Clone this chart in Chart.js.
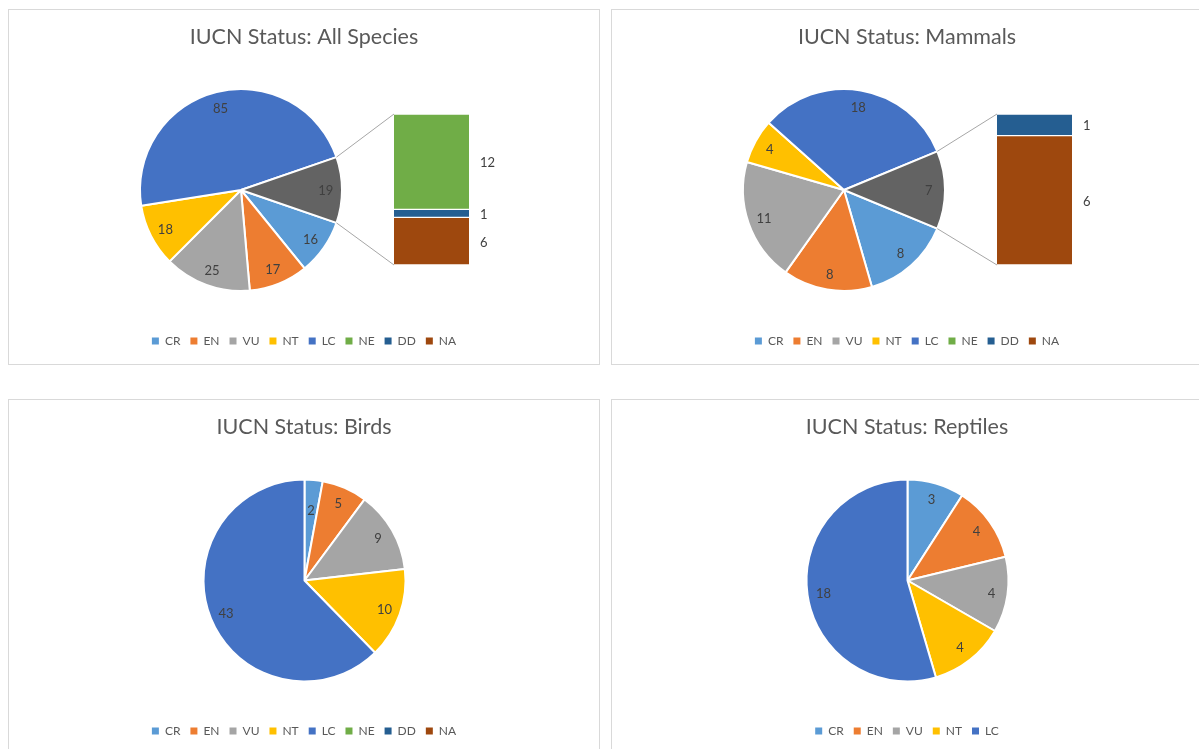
<!DOCTYPE html>
<html><head><meta charset="utf-8">
<script src="https://cdn.jsdelivr.net/npm/chart.js@4.4.1/dist/chart.umd.min.js"></script>
<style>
html,body{margin:0;padding:0;background:#fff;overflow:hidden;width:1199px;height:749px;}
.panel{position:absolute;border:1px solid #d9d9d9;width:590px;height:354px;background:#fff;}
.panel canvas{position:absolute;left:0;top:0;}
</style></head><body>
<div class="panel" style="left:8px;top:9px"><canvas id="pie1" width="590" height="354"></canvas><canvas id="bar1" width="590" height="354"></canvas></div>
<div class="panel" style="left:611px;top:9px"><canvas id="pie2" width="590" height="354"></canvas><canvas id="bar2" width="590" height="354"></canvas></div>
<div class="panel" style="left:8px;top:399px"><canvas id="pie3" width="590" height="354"></canvas></div>
<div class="panel" style="left:611px;top:399px"><canvas id="pie4" width="590" height="354"></canvas></div>
<script>
// ---- data ----
const legendCategories = ['CR','EN','VU','NT','LC','NE','DD','NA'];
const pieCategories = ['CR','EN','VU','NT','LC'];
const barCategories = ['NE','DD','NA'];
const allSpeciesPie = [16, 17, 25, 18, 85];
const allSpeciesBar = [12, 1, 6];
const mammalsPie = [8, 8, 11, 4, 18];
const mammalsBar = [0, 1, 6];
const birdsPie = [2, 5, 9, 10, 43];
const reptilesPie = [3, 4, 4, 4, 18];
const titles = ['IUCN Status: All Species', 'IUCN Status: Mammals', 'IUCN Status: Birds', 'IUCN Status: Reptiles'];

// ---- styles ----
const COLORS = {CR:'#5B9BD5', EN:'#ED7D31', VU:'#A5A5A5', NT:'#FFC000', LC:'#4472C4', NE:'#70AD47', DD:'#255E91', NA:'#9E480E', Other:'#636363'};
const FONT = 'Lato, "Open Sans", sans-serif';
const W = 590, H = 354;
const R = 101;
const TOP_PIE = {cx: 232, cy: 180};
const BOT_PIE = {cx: 295.5, cy: 180.5};
const BAR_BOX = {left: 385, right: 460, top: 104, bottom: 255};
const TITLE_SIZE = 21.5;

function placePie(pos) {
  return {
    id: 'placePie',
    afterLayout(chart) {
      const a = chart.chartArea;
      a.left = pos.cx - R - 3; a.right = pos.cx + R + 3;
      a.top = pos.cy - R - 3; a.bottom = pos.cy + R + 3;
      a.width = a.right - a.left; a.height = a.bottom - a.top;
    }
  };
}

const pieLabels = {
  id: 'pieLabels',
  afterDatasetsDraw(chart) {
    const ctx = chart.ctx;
    const meta = chart.getDatasetMeta(0);
    const vals = chart.data.datasets[0].data;
    ctx.save();
    ctx.font = '13px ' + FONT;
    ctx.fillStyle = '#404040';
    ctx.textAlign = 'center';
    ctx.textBaseline = 'middle';
    meta.data.forEach((arc, i) => {
      const v = vals[i];
      if (!v) return;
      const p = arc.getProps(['x','y','startAngle','endAngle','outerRadius'], true);
      const span = p.endAngle - p.startAngle;
      const mid = (p.startAngle + p.endAngle) / 2;
      const f = span < 0.3 ? 0.7 : 0.84;
      ctx.fillText(String(v), p.x + Math.cos(mid) * p.outerRadius * f, p.y + Math.sin(mid) * p.outerRadius * f + 1);
    });
    ctx.restore();
  }
};

function makePie(id, title, labels, values, colors, legendCats, pos, rotation) {
  return new Chart(document.getElementById(id), {
    type: 'pie',
    data: {labels, datasets: [{data: values, backgroundColor: colors, borderColor: '#ffffff', borderWidth: 2, radius: R}]},
    options: {
      responsive: false, animation: false, events: [],
      rotation: rotation,
      layout: {padding: {top: 0, bottom: 7, left: 0, right: 0}},
      plugins: {
        title: {display: true, text: title, color: '#595959', font: {family: FONT, size: TITLE_SIZE, weight: 'normal'}, padding: {top: 27 - TITLE_SIZE * 0.6, bottom: 6}},
        legend: {
          position: 'bottom',
          labels: {
            boxWidth: 7, boxHeight: 7, padding: 10, color: '#595959', font: {family: FONT, size: 12},
            generateLabels: () => legendCats.map(c => ({text: c, fillStyle: COLORS[c], strokeStyle: COLORS[c], lineWidth: 0, hidden: false, fontColor: '#595959'}))
          }
        },
        tooltip: {enabled: false}
      }
    },
    plugins: [placePie(pos), pieLabels]
  });
}

const barLabels = {
  id: 'barLabels',
  afterDatasetsDraw(chart) {
    const ctx = chart.ctx;
    ctx.save();
    ctx.font = '13px ' + FONT;
    ctx.fillStyle = '#404040';
    ctx.textAlign = 'left';
    ctx.textBaseline = 'middle';
    chart.data.datasets.forEach((ds, di) => {
      const el = chart.getDatasetMeta(di).data[0];
      const p = el.getProps(['x','y','base','width'], true);
      ctx.fillText(String(ds.data[0]), p.x + p.width / 2 + 11, (p.y + p.base) / 2 + 1.5);
    });
    ctx.restore();
  }
};

function connectors(pieChart) {
  return {
    id: 'connectors',
    afterDraw(chart) {
      const meta = pieChart.getDatasetMeta(0);
      const arc = meta.data[meta.data.length - 1];
      const p = arc.getProps(['x','y','startAngle','endAngle','outerRadius'], true);
      const a = chart.chartArea;
      const ctx = chart.ctx;
      ctx.save();
      ctx.strokeStyle = '#a6a6a6';
      ctx.lineWidth = 1;
      ctx.beginPath();
      ctx.moveTo(p.x + Math.cos(p.startAngle) * p.outerRadius, p.y + Math.sin(p.startAngle) * p.outerRadius);
      ctx.lineTo(a.left, a.top);
      ctx.moveTo(p.x + Math.cos(p.endAngle) * p.outerRadius, p.y + Math.sin(p.endAngle) * p.outerRadius);
      ctx.lineTo(a.left, a.bottom);
      ctx.stroke();
      ctx.restore();
    }
  };
}

function makeBar(id, pieChart, values) {
  const datasets = [];
  for (let i = barCategories.length - 1; i >= 0; i--) {
    if (!values[i]) continue;
    datasets.push({label: barCategories[i], data: [values[i]], backgroundColor: COLORS[barCategories[i]],
      borderColor: '#ffffff', borderWidth: {top: 1, bottom: 1, left: 0, right: 0}, borderSkipped: false,
      barPercentage: 1, categoryPercentage: 1});
  }
  const total = values.reduce((s, v) => s + v, 0);
  return new Chart(document.getElementById(id), {
    type: 'bar',
    data: {labels: ['Other'], datasets},
    options: {
      responsive: false, animation: false, events: [],
      layout: {padding: {left: BAR_BOX.left, right: W - BAR_BOX.right, top: BAR_BOX.top, bottom: H - BAR_BOX.bottom}},
      scales: {x: {display: false, stacked: true}, y: {display: false, stacked: true, min: 0, max: total}},
      plugins: {legend: {display: false}, title: {display: false}, tooltip: {enabled: false}}
    },
    plugins: [barLabels, connectors(pieChart)]
  });
}

function barOfPie(idPie, idBar, title, pieVals, barVals) {
  const other = barVals.reduce((s, v) => s + v, 0);
  const vals = pieVals.concat([other]);
  const total = vals.reduce((s, v) => s + v, 0);
  const rotation = 90 + (other / total) * 180;
  const pie = makePie(idPie, title, pieCategories.concat(['Other']), vals,
    pieCategories.map(c => COLORS[c]).concat([COLORS.Other]), legendCategories, TOP_PIE, rotation);
  makeBar(idBar, pie, barVals);
}

barOfPie('pie1', 'bar1', titles[0], allSpeciesPie, allSpeciesBar);
barOfPie('pie2', 'bar2', titles[1], mammalsPie, mammalsBar);
makePie('pie3', titles[2], pieCategories, birdsPie, pieCategories.map(c => COLORS[c]), legendCategories, BOT_PIE, 0);
makePie('pie4', titles[3], pieCategories, reptilesPie, pieCategories.map(c => COLORS[c]), pieCategories, BOT_PIE, 0);
</script>
</body></html>
